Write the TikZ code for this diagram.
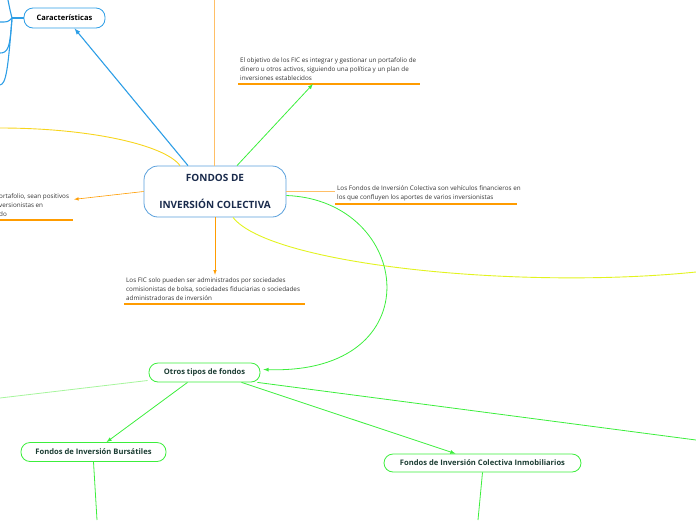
\documentclass[tikz,border=0pt]{standalone}
\usepackage{fontspec}
\setmainfont{Open Sans}
\usetikzlibrary{positioning}

\definecolor{fblue}{HTML}{2D9EE6}
\definecolor{fborder}{HTML}{5AA0DC}
\definecolor{forange}{HTML}{FF9C00}
\definecolor{flightorange}{HTML}{FFBF66}
\definecolor{fyellow}{HTML}{F7D51D}
\definecolor{flime}{HTML}{E2F31E}
\definecolor{fgreen}{HTML}{3CEE3C}
\definecolor{flightgreen}{HTML}{A6F59C}
\definecolor{fnavy}{HTML}{1A2B4C}
\definecolor{fdkgreen}{HTML}{1C3D33}
\definecolor{ftext}{HTML}{333333}

\begin{document}
\begin{tikzpicture}[x=1pt, y=-1pt,
        centralbox/.style={draw=fborder, thick, rounded corners=14pt, fill=white,
            minimum width=142pt, minimum height=51pt, align=center,
            font=\fontsize{10}{12}\selectfont\bfseries, text=fnavy},
        bluebox/.style={draw=fblue, thick, rounded corners=9pt, fill=white,
            minimum width=81pt, minimum height=20pt,
            font=\fontsize{7.5}{9}\selectfont\bfseries, text=black},
        greenbox/.style={draw=fgreen, thick, rounded corners=9pt, fill=white,
            minimum height=19pt, inner xsep=10pt,
            font=\fontsize{7.6}{9}\selectfont\bfseries, text=fdkgreen},
        notetext/.style={align=left, inner xsep=2pt, inner ysep=3pt,
            font=\fontsize{6.3}{9}\selectfont, text=ftext},
        underline/.style={forange, line width=1.2pt},
        bluearrow/.style={fblue, line width=1.1pt, -latex},
        orangearrow/.style={forange, line width=0.6pt, -latex},
        greenarrow/.style={fgreen, line width=0.8pt, -latex}]

        \useasboundingbox (0,0) rectangle (696,520);

        % central topic

        \node[centralbox] (fic) at (215,191.5) {FONDOS DE\\[15pt]INVERSIÓN COLECTIVA};

        % caracteristicas

        \node[bluebox] (carac) at (64.5,18) {Características};
        \coordinate (cjoin) at (12,18);
        \draw[fblue, line width=1.1pt] (carac.west) -- (cjoin);
        \draw[fblue, line width=1.1pt] (cjoin) .. controls (10,10) .. (8,0); % up
        \draw[fblue, line width=1.1pt] (cjoin) .. controls (8,22) .. (0,22); % left
        \draw[fblue, line width=1.1pt] (cjoin) .. controls (10,48) and (8,53) .. (0,53); % down
        \draw[fblue, line width=1.1pt] (cjoin) .. controls (8,70) and (6,84) .. (0,85); % far down
        \draw[bluearrow] ([xshift=-27pt]fic.north) -- ([xshift=10pt]carac.south);

        % branches off the page

        \coordinate (topend) at (214,0);
        \coordinate (yellowend) at (0,128);
        \coordinate (limeend) at (696,272);
        \draw[flightorange, line width=1pt] ([xshift=-1pt]fic.north) -- (topend);
        \draw[fyellow, line width=0.9pt] ([xshift=-35pt]fic.north) .. controls (165,145) and (90,128) .. (yellowend);
        \draw[flime, line width=0.9pt] ([xshift=18pt]fic.south) .. controls (270,265) and (520,290) .. (limeend);

        % notes

        \node[notetext, anchor=south west] (objetivo) at (238,84)
            {El objetivo de los FIC es integrar y gestionar un portafolio de\\
             dinero u otros activos, siguiendo una política y un plan de\\
             inversiones establecidos};
        \draw[underline] (objetivo.south west) -- ++(182,0);
        \draw[greenarrow] ([xshift=22pt]fic.north) -- (313,84);

        \node[notetext, anchor=south west] (vehiculos) at (335,204)
            {Los Fondos de Inversión Colectiva son vehículos financieros en\\
             los que confluyen los aportes de varios inversionistas};
        \draw[underline] (vehiculos.south west) -- ++(182,0);
        \draw[flightorange, line width=0.6pt] (fic.east) -- (fic.east -| vehiculos.west);

        \node[notetext, anchor=south west] (rentab) at (-3,220)
            {ortafolio, sean positivos\\
             versionistas en\\
             do};
        \draw[underline] (0,220) -- (73,220);
        \draw[orangearrow] (fic.west) -- ([yshift=6pt]rentab.east -| 74,0);

        \node[notetext, anchor=south west] (admin) at (124,304)
            {Los FIC solo pueden ser administrados por sociedades\\
             comisionistas de bolsa, sociedades fiduciarias o sociedades\\
             administradoras de inversión};
        \draw[underline] (admin.south west) -- ++(181,0);
        \draw[orangearrow] (fic.south) -- (admin.north -| fic.south);

        % otros tipos de fondos

        \node[greenbox, minimum width=111pt] (otros) at (204.5,372.5) {Otros tipos de fondos};
        \draw[greenarrow] ([yshift=-4pt]fic.east) .. controls (412,200) and (435,375) .. ([xshift=3pt,yshift=3pt]otros.east);

        \node[greenbox, minimum width=145pt] (burs) at (93.5,452) {Fondos de Inversión Bursátiles};
        \node[greenbox, minimum width=197pt, minimum height=18pt] (inmob) at (482.5,463) {Fondos de Inversión Colectiva Inmobiliarios};

        \coordinate (otrosleft) at (0,398);
        \coordinate (otrosright) at (696,440);
        \coordinate (bursend) at (97,520);
        \coordinate (inmobend) at (478,520);

        \draw[flightgreen, line width=0.8pt] ([xshift=-1pt,yshift=-8pt]otros.west) -- (otrosleft);
        \draw[fgreen, line width=0.8pt] ([xshift=-3pt]otros.south east) -- (otrosright);
        \draw[greenarrow] ([xshift=-17pt]otros.south) -- ([xshift=13pt]burs.north);
        \draw[greenarrow] ([xshift=37pt]otros.south) -- ([xshift=-27pt]inmob.north);
        \draw[fgreen, line width=0.8pt] (burs.south) -- (bursend);
        \draw[fgreen, line width=0.8pt] (inmob.south) -- (inmobend);

    \end{tikzpicture}
\end{document}
